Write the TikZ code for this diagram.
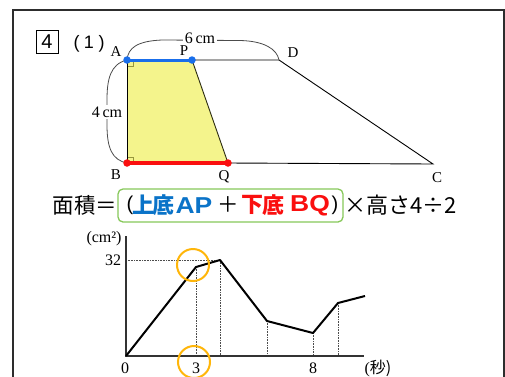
\documentclass[tikz,border=0pt]{standalone}
\usepackage{fontspec}
\setmainfont{Liberation Serif}
\newfontfamily\jp{Noto Sans CJK JP}
\newfontfamily\lsans{Liberation Sans}
\definecolor{fillyellow}{RGB}{244,244,140}
\definecolor{blueseg}{RGB}{25,110,235}
\definecolor{redseg}{RGB}{250,15,15}
\definecolor{boxgreen}{RGB}{135,200,90}
\definecolor{circorange}{RGB}{255,182,10}
\definecolor{framegray}{RGB}{45,45,45}
\definecolor{formblue}{RGB}{10,115,200}
\definecolor{olive}{RGB}{150,150,60}
\begin{document}
\begin{tikzpicture}[x=1pt,y=-1pt,
  lbl/.style={font=\fontsize{15}{15}\selectfont, inner sep=0pt},
  num/.style={font=\fontsize{16}{16}\selectfont, inner sep=0pt},
  thin line/.style={draw=black, line width=0.9pt},
  brace curve/.style={draw=black!70, line width=0.8pt},
  seg dot/.style={circle, inner sep=0pt, minimum size=7.5pt},
  axisline/.style={draw=black!80, line width=1.1pt},
  graphline/.style={draw=black, line width=2pt, line join=round},
  guide/.style={draw=black!70, line width=0.6pt, densely dotted},
  mark ring/.style={draw=circorange, line width=2pt, circle, minimum size=32pt, inner sep=0pt},
  formula/.style={font=\jp\fontsize{21.5}{21.5}\selectfont, inner sep=0pt},
  fcjk/.style={font=\jp\bfseries\fontsize{22}{22}\selectfont, inner sep=0pt},
  flat/.style={font=\lsans\bfseries\fontsize{23}{23}\selectfont, inner sep=0pt},
  fparen/.style={font=\lsans\fontsize{20}{20}\selectfont, inner sep=0pt}]
\useasboundingbox (0,0) rectangle (505,376);
\fill[white] (0,0) rectangle (505,376);
% frame
\draw[framegray, line width=1.8pt] (13,377) -- (13,10) -- (504,10) -- (504,377);
% heading
\node[draw, line width=0.9pt, minimum width=22pt, minimum height=23pt, inner sep=0pt,
      font=\lsans\fontsize{20}{20}\selectfont] (qnum) at (47,41.5) {4};
\node[font=\lsans\fontsize{18}{18}\selectfont, inner sep=0pt] (part) at (89,44) {(\hspace{4.5pt}1\hspace{4.5pt})};
% trapezoid points
\coordinate (A) at (127,60);
\coordinate (P) at (192,60);
\coordinate (B) at (127,163);
\coordinate (Q) at (228,163);
\coordinate (D) at (279,60);
\coordinate (C) at (433,164);
\fill[fillyellow] (A) -- (P) -- (Q) -- (B) -- cycle;
\draw[olive, line width=0.6pt] (127,66) -- (133,66) -- (133,60);
\draw[olive, line width=0.6pt] (127,157) -- (133,157) -- (133,163);
\draw[thin line] (P) -- (D) -- (C) -- (Q);
\draw[thin line] (A) -- (B);
\draw[draw=black!70!olive, line width=0.9pt] (P) -- (Q);
% dimension curves
\draw[brace curve] (A) .. controls (128,48) and (137,41) .. (162,40) -- (240,40.5) .. controls (264,41) and (277,49) .. (D);
\draw[brace curve] (A) .. controls (110,64) and (107,80) .. (107,100) -- (107,125) .. controls (107,148) and (112,160) .. (B);
\node[lbl, fill=white, inner xsep=2pt, font=\fontsize{16}{16}\selectfont] (six) at (200,38) {6\,cm};
\node[lbl, fill=white, inner ysep=2pt, font=\fontsize{16}{16}\selectfont] (four) at (107,112) {4\,cm};
% coloured segments
\draw[blueseg, line width=3pt] (A) -- (P);
\draw[redseg, line width=3.5pt] (B) -- (Q);
\node[seg dot, fill=blueseg] (dA) at (A) {};
\node[seg dot, fill=blueseg] (dP) at (P) {};
\node[seg dot, fill=redseg] (dB) at (B) {};
\node[seg dot, fill=redseg] (dQ) at (Q) {};
% vertex labels
\node[lbl] (lA) at (116,52) {A};
\node[lbl] (lP) at (184,51) {P};
\node[lbl] (lD) at (293,53) {D};
\node[lbl] (lB) at (116,175) {B};
\node[lbl] (lQ) at (224,177) {Q};
\node[lbl] (lC) at (437,178) {C};
% formula
\node[draw=boxgreen, line width=1.3pt, rounded corners=5pt, minimum width=225pt, minimum height=33pt, inner sep=0pt] (fbox) at (230.5,205.5) {};
\node[formula, anchor=east] (lhs) at (117.5,205) {面積＝};
\node[fparen] (fpl) at (130,205) {(};
\node[fcjk, text=formblue] (fu1) at (143,205) {上};
\node[fcjk, text=formblue] (fu2) at (163,205) {底};
\node[flat, text=formblue] (fu3) at (194,205.5) {\scalebox{1.15}[1]{AP}};
\node[formula] (fplus) at (228,205) {＋};
\node[fcjk, text=redseg] (fd1) at (252,205) {下};
\node[fcjk, text=redseg] (fd2) at (273,205) {底};
\node[flat, text=redseg] (fd3) at (310,205.5) {\scalebox{1.15}[1]{BQ}};
\node[fparen] (fpr) at (335,205) {)};
\node[font=\jp\fontsize{22}{22}\selectfont, inner sep=0pt, anchor=west] (rhs) at (344,205) {×高さ4÷2};
% graph
\coordinate (O) at (126,356);
\coordinate (Ytop) at (126,236);
\coordinate (Xend) at (364,356);
\coordinate (g1) at (196,267);
\coordinate (g2) at (220,260);
\coordinate (g3) at (267,321);
\coordinate (g4) at (313,333);
\coordinate (g5) at (338,303);
\coordinate (g6) at (365,296);
\coordinate (y32) at (126,260);
\draw[guide] (y32) -- (g2);
\draw[guide] (g1) -- (196,356);
\draw[guide] (g2) -- (220,356);
\draw[guide] (g3) -- (267,356);
\draw[guide] (g4) -- (313,356);
\draw[guide] (g5) -- (338,356);
\draw[axisline] (Ytop) -- (O) -- (Xend);
\draw[graphline] (O) -- (g1) -- (g2) -- (g3) -- (g4) -- (g5) -- (g6);
\node[num] (unitY) at (104,239) {(cm²)};
\node[num] (t32) at (113,260) {32};
\node[num] (t0) at (125,368) {0};
\node[num] (t3) at (196,368) {3};
\node[num] (t8) at (313,368) {8};
\node[num] (unitX) at (378,368) {(\jp 秒)};
\node[mark ring] (ring1) at (193,265) {};
\node[mark ring] (ring2) at (194,362) {};
\end{tikzpicture}
\end{document}
